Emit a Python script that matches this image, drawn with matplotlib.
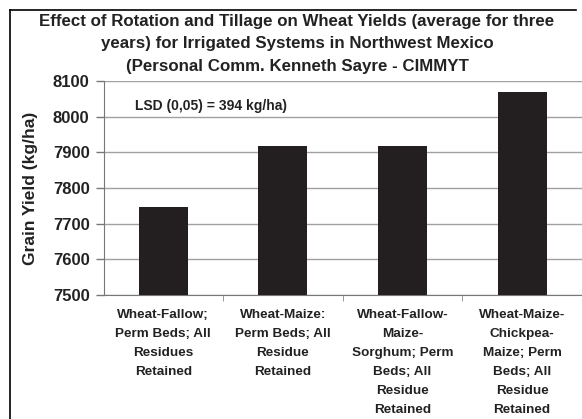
import matplotlib
matplotlib.use("Agg")
import matplotlib.pyplot as plt
from matplotlib.lines import Line2D

plt.rcParams['font.family'] = ['Liberation Sans', 'DejaVu Sans']

categories = [
    "Wheat-Fallow;\nPerm Beds; All\nResidues\nRetained",
    "Wheat-Maize:\nPerm Beds; All\nResidue\nRetained",
    "Wheat-Fallow-\nMaize-\nSorghum; Perm\nBeds; All\nResidue\nRetained",
    "Wheat-Maize-\nChickpea-\nMaize; Perm\nBeds; All\nResidue\nRetained",
]
yields = [7748, 7919, 7919, 8068]
yticks = [7500, 7600, 7700, 7800, 7900, 8000, 8100]

W, H = 582, 419
fig = plt.figure(figsize=(W / 100, H / 100), dpi=100)
fig.patch.set_facecolor('white')
ax = fig.add_axes([103.5 / W, 1 - 295 / H, 1 - 103.5 / W, (295 - 81) / H])

x = list(range(len(categories)))
ax.bar(x, yields, width=0.41, color='#231f20', zorder=3)
ax.set_ylim(7500, 8100)
ax.set_xlim(-0.5, 3.5)
ax.set_yticks(yticks)
ax.set_yticklabels([str(t) for t in yticks], fontsize=12, fontweight='bold', color='#222222')
ax.yaxis.grid(True, color='#a0a0a0', linewidth=1.0, zorder=0)
ax.set_axisbelow(True)

ax.set_xticks(x)
ax.set_xticklabels(categories, fontsize=9.7, fontweight='bold', color='#222222', linespacing=1.78, va='top')
ax.tick_params(axis='x', length=0, pad=10)
ax.set_xticks([0.5, 1.5, 2.5], minor=True)
ax.tick_params(axis='x', which='minor', length=4, color='#888888', direction='out')
ax.tick_params(axis='y', length=6, color='#777777', width=1, pad=4)

for s in ['top', 'right']:
    ax.spines[s].set_visible(False)
ax.spines['left'].set_color('#777777')
ax.spines['bottom'].set_color('#777777')

ax.set_ylabel("Grain Yield (kg/ha)", fontsize=12.5, fontweight='bold', color='#222222', labelpad=11)

fig.text(135 / W, 1 - 106 / H, "LSD (0,05) = 394 kg/ha)", ha='left', va='center',
         fontsize=10, fontweight='bold', color='#222222')

title = ("Effect of Rotation and Tillage on Wheat Yields (average for three\n"
         "years) for Irrigated Systems in Northwest Mexico\n"
         "(Personal Comm. Kenneth Sayre - CIMMYT")
fig.text(297 / W, 1 - 14 / H, title, ha='center', va='top', fontsize=12.2, fontweight='bold',
         color='#222222', linespacing=1.62)

# frame lines
fig.add_artist(Line2D([10 / W, 10 / W], [1 - 10 / H, 0], color='black', linewidth=1.2, transform=fig.transFigure))
fig.add_artist(Line2D([10 / W, 576 / W], [1 - 10 / H, 1 - 10 / H], color='black', linewidth=1.2, transform=fig.transFigure))

fig.savefig("out.png", dpi=100, facecolor='white')
